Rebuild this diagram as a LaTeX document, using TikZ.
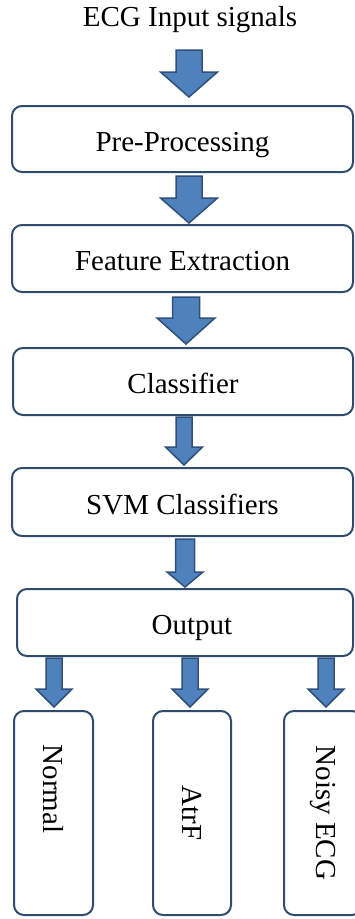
\documentclass[tikz,border=0pt]{standalone}
\usepackage{fontspec}
\setmainfont{Liberation Serif}
\usetikzlibrary{calc}
\definecolor{boxc}{HTML}{2F4B6E}
\definecolor{arrfill}{HTML}{4F81BD}
\definecolor{arrline}{HTML}{30507A}
\newcommand\blockarr[5]{\draw[blk] ($(#1)+(-#3,0)$) -- ($(#2)+(-#3,-#5)$) -- ($(#2)+(-#4,-#5)$) -- (#2) -- ($(#2)+(#4,-#5)$) -- ($(#2)+(#3,-#5)$) -- ($(#1)+(#3,0)$) -- cycle;}
\begin{document}
\begin{tikzpicture}[x=1pt,y=-1pt, font=\fontsize{29}{34}\selectfont,
  box/.style={draw=boxc, line width=2pt, rounded corners=10pt, inner sep=0pt},
  hbox/.style={box, text height=25pt, text depth=1pt},
  vbox/.style={box, rotate=-90, minimum width=204pt},
  blk/.style={fill=arrfill, draw=arrline, line width=1.5pt, line join=miter}]
\useasboundingbox (0,0) rectangle (355,919);
\clip (0,0) rectangle (355,919);
\node (inp) at (190,20) {ECG Input signals};
\node[hbox, minimum width=341pt, minimum height=66pt] (pre) at (182.5,139) {Pre-Processing};
\node[hbox, minimum width=341pt, minimum height=67pt] (fe) at (182.5,258.5) {Feature Extraction};
\node[hbox, minimum width=340pt, minimum height=67pt] (cls) at (183,381.5) {Classifier};
\node[hbox, minimum width=341pt, minimum height=68pt] (svm) at (182.5,502) {SVM Classifiers};
\node[hbox, minimum width=336pt, minimum height=67pt] (out) at (185,622.5) {\hspace*{14pt}Output};
\node[vbox, minimum height=79pt] (nor) at (53.5,813) {Normal\hspace*{48pt}};
\node[vbox, minimum height=78pt] (atr) at (192,813) {AtrF};
\node[vbox, minimum height=78pt] (noi) at (323,813) {Noisy ECG};
% arrow end points
\coordinate (a1s) at (189,50);  \coordinate (a1e) at (189,97);
\coordinate (a2s) at (189,176); \coordinate (a2e) at (189,223);
\coordinate (a3s) at (186,297); \coordinate (a3e) at (186,344);
\coordinate (a4s) at (184,417); \coordinate (a4e) at (184,465);
\coordinate (a5s) at (185,539); \coordinate (a5e) at (185,587);
\coordinate (b1s) at (54,658);  \coordinate (b1e) at (54,707);
\coordinate (b2s) at (190,658); \coordinate (b2e) at (190,707);
\coordinate (b3s) at (326,658); \coordinate (b3e) at (326,707);
\blockarr{a1s}{a1e}{13}{28.5}{25}
\blockarr{a2s}{a2e}{13}{28.5}{25}
\blockarr{a3s}{a3e}{13.5}{29}{26}
\blockarr{a4s}{a4e}{8}{18.5}{18}
\blockarr{a5s}{a5e}{9.5}{18}{15}
\blockarr{b1s}{b1e}{8}{18}{18}
\blockarr{b2s}{b2e}{8}{18}{18}
\blockarr{b3s}{b3e}{8}{18}{18}
\end{tikzpicture}
\end{document}
